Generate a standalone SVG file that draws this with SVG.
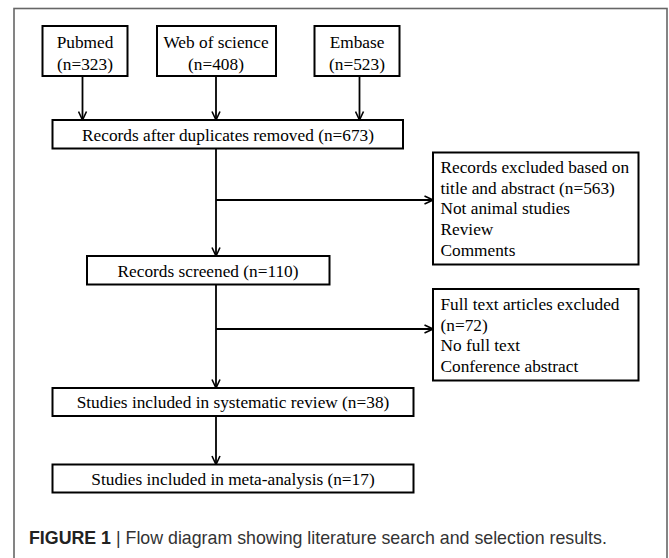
<svg xmlns="http://www.w3.org/2000/svg" width="669" height="558" viewBox="0 0 669 558">
<defs>
<style>
.box{fill:#fff;stroke:#000;stroke-width:2}
.t{font-family:"Liberation Serif","Times New Roman",serif;font-size:17.3px;fill:#000}
.c{text-anchor:middle}
.ln{stroke:#000;stroke-width:1.8;fill:none}
.cap{font-family:"Liberation Sans",Arial,sans-serif;font-size:17.8px;fill:#333}
</style>
<marker id="ah" viewBox="0 0 10 10" refX="9.5" refY="5" markerWidth="10" markerHeight="10" markerUnits="userSpaceOnUse" orient="auto">
<path d="M1,1 L9.5,5 L1,9" fill="none" stroke="#000" stroke-width="1.6"/>
</marker>
</defs>
<rect x="0" y="0" width="669" height="558" fill="#fff"/>
<rect x="14" y="8.5" width="653" height="560" fill="none" stroke="#666" stroke-width="1.6"/>
<g id="connectors">
<line class="ln" x1="82.5" y1="76" x2="82.5" y2="120" marker-end="url(#ah)"/>
<line class="ln" x1="216" y1="76" x2="216" y2="120" marker-end="url(#ah)"/>
<line class="ln" x1="359.5" y1="76" x2="359.5" y2="120" marker-end="url(#ah)"/>
<line class="ln" x1="216" y1="148.5" x2="216" y2="256" marker-end="url(#ah)"/>
<line class="ln" x1="216" y1="200" x2="433" y2="200" marker-end="url(#ah)"/>
<line class="ln" x1="216" y1="284.5" x2="216" y2="388" marker-end="url(#ah)"/>
<line class="ln" x1="216" y1="329" x2="433" y2="329" marker-end="url(#ah)"/>
<line class="ln" x1="216" y1="416" x2="216" y2="464.5" marker-end="url(#ah)"/>
</g>
<g id="pubmed">
<rect class="box" x="42.5" y="26" width="85" height="50"/>
<text class="t c" x="85" y="47.5">Pubmed</text>
<text class="t c" x="85" y="70">(n=323)</text>
</g>
<g id="wos">
<rect class="box" x="157" y="26" width="119" height="50"/>
<text class="t c" x="216" y="47.5">Web of science</text>
<text class="t c" x="216" y="70">(n=408)</text>
</g>
<g id="embase">
<rect class="box" x="314.5" y="26" width="85" height="50"/>
<text class="t c" x="357" y="47.5">Embase</text>
<text class="t c" x="357" y="70">(n=523)</text>
</g>
<g id="dedup">
<rect class="box" x="52.5" y="120" width="350.5" height="28.5"/>
<text class="t c" x="228" y="140.5">Records after duplicates removed (n=673)</text>
</g>
<g id="excl1">
<rect class="box" x="433" y="152.5" width="205.5" height="112"/>
<text class="t" x="440.5" y="172.7">Records excluded based on</text>
<text class="t" x="440.5" y="193.5">title and abstract (n=563)</text>
<text class="t" x="440.5" y="214.3">Not animal studies</text>
<text class="t" x="440.5" y="235.1">Review</text>
<text class="t" x="440.5" y="255.9">Comments</text>
</g>
<g id="screened">
<rect class="box" x="87" y="256" width="242.5" height="28.5"/>
<text class="t c" x="208" y="276.5">Records screened (n=110)</text>
</g>
<g id="excl2">
<rect class="box" x="433" y="289" width="205.5" height="91.5"/>
<text class="t" x="440.5" y="309.5">Full text articles excluded</text>
<text class="t" x="440.5" y="330.5">(n=72)</text>
<text class="t" x="440.5" y="351">No full text</text>
<text class="t" x="440.5" y="371.8">Conference abstract</text>
</g>
<g id="sysrev">
<rect class="box" x="52.5" y="388" width="361" height="28"/>
<text class="t c" x="233" y="408">Studies included in systematic review (n=38)</text>
</g>
<g id="meta">
<rect class="box" x="52.5" y="464.5" width="361" height="28"/>
<text class="t c" x="233" y="484.5">Studies included in meta-analysis (n=17)</text>
</g>
<text class="cap" x="29" y="543.5"><tspan font-weight="bold" fill="#222">FIGURE 1</tspan> | Flow diagram showing literature search and selection results.</text>
</svg>
